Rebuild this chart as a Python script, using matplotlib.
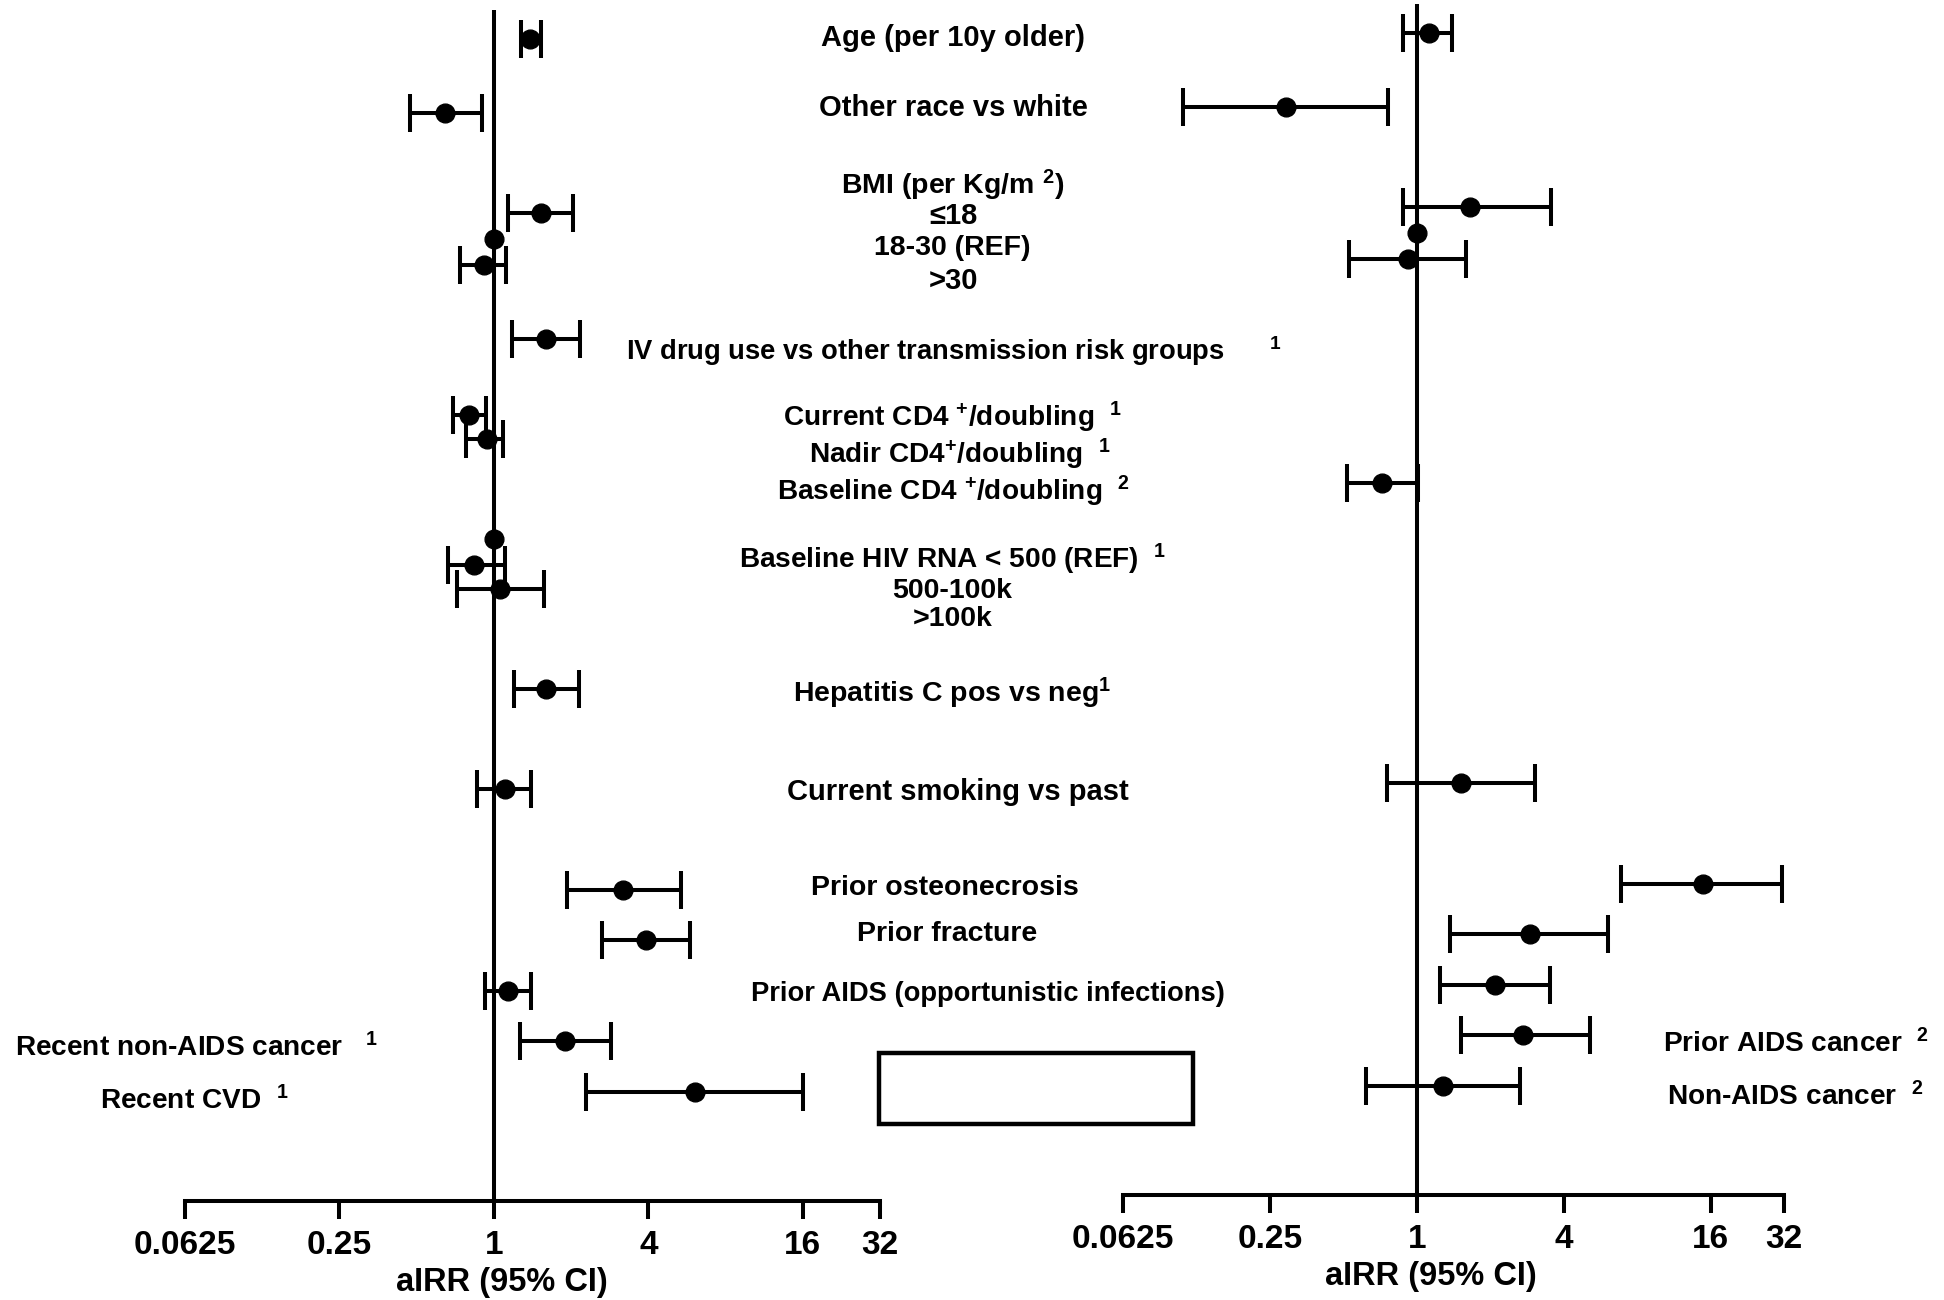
import numpy as np
import matplotlib
matplotlib.use("Agg")
import matplotlib.pyplot as plt
from matplotlib.patches import Rectangle
from matplotlib.ticker import NullLocator

plt.rcParams['font.family'] = ['Liberation Sans', 'DejaVu Sans']
plt.rcParams['font.weight'] = 'bold'
plt.rcParams['mathtext.fontset'] = 'custom'
plt.rcParams['mathtext.rm'] = 'Liberation Sans:bold'
plt.rcParams['mathtext.bf'] = 'Liberation Sans:bold'
plt.rcParams['mathtext.it'] = 'Liberation Sans:bold'

nan = np.nan

# rows, top to bottom (row_y = vertical position of each row, same units on both panels)
rows = ["Age", "Other race", "BMI <=18", "BMI 18-30", "BMI >30", "IVDU", "Current CD4",
        "Nadir CD4", "Baseline CD4", "RNA <500", "RNA 500-100k", "RNA >100k", "HepC",
        "Smoking", "Osteonecrosis", "Fracture", "Prior AIDS OI", "Cancer row", "CVD row"]
row_y = [39, 113, 213, 239, 265, 339, 415, 439, 489, 539, 565, 589, 689, 789, 890, 940, 991, 1041, 1092]

# left panel aIRR (95% CI)
est_left = [1.38, 0.644, 1.52, 1.0, 0.915, 1.59, 0.80, 0.94, nan, 1.0, 0.84, 1.06, 1.60, 1.10, 3.20, 3.91, 1.14, 1.89, 6.07]
lo_left = [1.27, 0.472, 1.14, nan, 0.74, 1.18, 0.69, 0.78, nan, nan, 0.66, 0.717, 1.20, 0.86, 1.92, 2.65, 0.925, 1.26, 2.29]
hi_left = [1.52, 0.895, 2.03, nan, 1.117, 2.16, 0.935, 1.087, nan, nan, 1.10, 1.57, 2.14, 1.40, 5.37, 5.83, 1.40, 2.85, 16.1]

# right panel aIRR (95% CI)
est_right = [1.12, 0.291, 1.66, 1.0, 0.92, nan, nan, nan, 0.72, nan, nan, nan, nan, 1.52, 14.9, 2.90, 2.10, 2.73, 1.28]
lo_right = [0.88, 0.11, 0.88, nan, 0.526, nan, nan, nan, 0.516, nan, nan, nan, nan, 0.755, 6.89, 1.37, 1.24, 1.52, 0.62]
hi_right = [1.40, 0.764, 3.56, nan, 1.59, nan, nan, nan, 1.01, nan, nan, nan, nan, 3.04, 31.5, 6.10, 3.52, 5.11, 2.64]

xticks = [0.0625, 0.25, 1, 4, 16, 32]
xtick_labels = ["0.0625", "0.25", "1", "4", "16", "32"]

# (text, x centre px, y px, font size)
mid_labels = [
    ("Age (per 10y older)", 953, 35, 21),
    ("Other race vs white", 953, 105, 21),
    ("BMI (per Kg/m $^{2}$)", 953, 181, 20.5),
    ("\u226418", 953, 213, 21),
    ("18-30 (REF)", 952, 245, 20.5),
    (">30", 953, 278, 21),
    ("IV drug use vs other transmission risk groups      $^{1}$", 954, 347, 19.7),
    ("Current CD4 $^{+}$/doubling  $^{1}$", 953, 413, 20.2),
    ("Nadir CD4$^{+}$/doubling  $^{1}$", 960, 450, 20.2),
    ("Baseline CD4 $^{+}$/doubling  $^{2}$", 954, 487, 20.2),
    ("Baseline HIV RNA < 500 (REF)  $^{1}$", 953, 555, 20.2),
    ("500-100k", 952, 588, 20.5),
    (">100k", 953, 616, 20.5),
    ("Hepatitis C pos vs neg$^{1}$", 952, 689, 20.5),
    ("Current smoking vs past", 958, 789, 21),
    ("Prior osteonecrosis", 945, 885, 20.5),
    ("Prior fracture", 947, 931, 20.5),
    ("Prior AIDS (opportunistic infections)", 988, 991, 19.7),
]
left_labels = [("Recent non-AIDS cancer   $^{1}$", 15, 1045), ("Recent CVD  $^{1}$", 100, 1098)]
right_labels = [("Prior AIDS cancer  $^{2}$", 1929, 1041), ("Non-AIDS cancer  $^{2}$", 1924, 1094)]

W, H = 1944, 1300
fig = plt.figure(figsize=(W / 100, H / 100), dpi=100)


def fx(p):
    return p / W


def fy(p):
    return 1 - p / H


ax_l = fig.add_axes([fx(185), fy(1201), 695 / W, 1191 / H])
ax_r = fig.add_axes([fx(1123), fy(1195), 661 / W, 1191 / H])

LW = 2.9
y = np.array(row_y, dtype=float)
for ax, est, lo, hi, lab_x in [(ax_l, est_left, lo_left, hi_left, 0.456),
                                (ax_r, est_right, lo_right, hi_right, 0.466)]:
    est = np.array(est); lo = np.array(lo); hi = np.array(hi)
    ax.set_xscale('log', base=2)
    ax.set_xlim(0.0625, 32)
    ax.set_ylim(1201, 10)
    for s in ['top', 'right', 'left']:
        ax.spines[s].set_visible(False)
    ax.spines['bottom'].set_linewidth(LW)
    ax.axvline(1, color='k', lw=LW, zorder=1)
    ax.set_xticks(xticks, xtick_labels)
    ax.xaxis.set_minor_locator(NullLocator())
    ax.tick_params(axis='x', length=13, width=LW, labelsize=24, pad=8)
    ax.set_yticks([])
    ax.set_xlabel("aIRR (95% CI)", fontsize=23.5, fontweight='bold')
    ax.xaxis.set_label_coords(lab_x, -0.055)

    ci = ~np.isnan(lo)
    ax.errorbar(est[ci], y[ci], xerr=[est[ci] - lo[ci], hi[ci] - est[ci]], fmt='o', color='k',
                ms=13.5, elinewidth=LW, capsize=14, capthick=LW, zorder=3)
    ref = ~np.isnan(est) & ~ci
    ax.plot(est[ref], y[ref], 'o', color='k', ms=13.5, zorder=3)

for txt, x, yy, fs in mid_labels:
    fig.text(fx(x), fy(yy), txt, ha='center', va='center_baseline', fontsize=fs, fontweight='bold')
for txt, x, yy in left_labels:
    fig.text(fx(x), fy(yy), txt, ha='left', va='center_baseline', fontsize=20.2, fontweight='bold')
for txt, x, yy in right_labels:
    fig.text(fx(x), fy(yy), txt, ha='right', va='center_baseline', fontsize=20.2, fontweight='bold')

fig.add_artist(Rectangle((fx(879), fy(1124)), 314 / W, 71 / H, transform=fig.transFigure,
                         fill=False, ec='k', lw=3.2))

fig.savefig("out.png", dpi=100, facecolor='white')
